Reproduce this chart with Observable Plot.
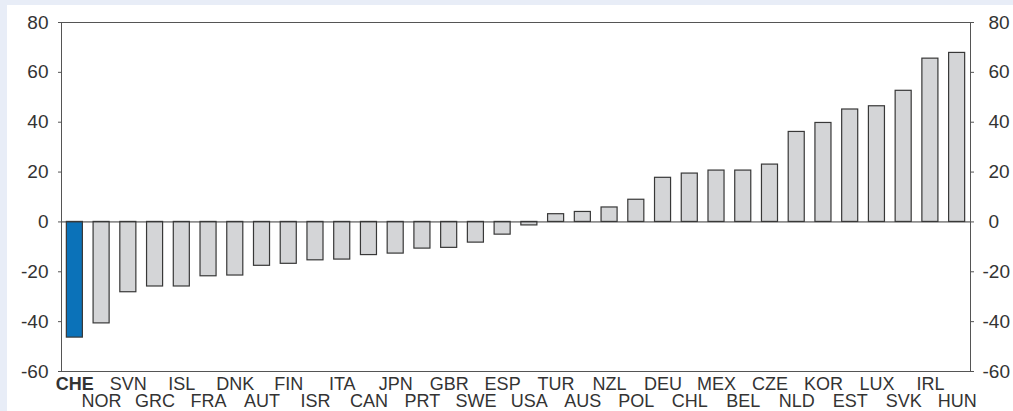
<!DOCTYPE html>
<html>
<head>
<meta charset="utf-8">
<script src="https://cdn.jsdelivr.net/npm/d3@7"></script>
<script src="https://cdn.jsdelivr.net/npm/@observablehq/plot@0.6"></script>
<style>
  html, body { margin: 0; padding: 0; background: #e8edf7; }
  body { width: 1013px; height: 411px; overflow: hidden; position: relative; }
  #panel { position: absolute; left: 7px; top: 5px; width: 1006px; height: 406px; background: #ffffff; }
  #panel svg { display: block; }
</style>
</head>
<body>
<div id="panel"></div>
<script>
const countries = ["CHE","NOR","SVN","GRC","ISL","FRA","DNK","AUT","FIN","ISR","ITA","CAN","JPN","PRT","GBR","SWE","ESP","USA","TUR","AUS","NZL","POL","DEU","CHL","MEX","BEL","CZE","NLD","KOR","EST","LUX","SVK","IRL","HUN"];
const values = [-46.4,-40.7,-28.2,-25.9,-25.9,-21.8,-21.5,-17.6,-16.8,-15.4,-15.1,-13.3,-12.7,-10.7,-10.4,-8.3,-5.1,-1.4,3.1,4.0,5.8,8.9,17.7,19.4,20.6,20.6,23.0,36.1,39.7,45.1,46.4,52.6,65.5,67.8];
const highlight = ["CHE"];
const yTicksPos = [0, 20, 40, 60, 80];
const yTicksNeg = [-60, -40, -20];

const data = countries.map((c, i) => ({country: c, value: values[i], row: i % 2, hl: highlight.includes(c)}));

const font = "'Liberation Sans', Arial, Helvetica, sans-serif";
const textColor = "#333333";

const labelMark = (rows, dy, bold) => Plot.text(rows, {
  x: "country", text: "country", frameAnchor: "bottom", lineAnchor: "bottom", dy,
  fontSize: 18, fill: textColor, fontWeight: bold ? "bold" : "normal"
});

const chart = Plot.plot({
  width: 1006,
  height: 406,
  marginLeft: 54,
  marginRight: 43,
  marginTop: 17,
  marginBottom: 40,
  style: {fontFamily: font, background: "transparent", color: textColor},
  x: {type: "band", domain: countries, paddingInner: 0.4, paddingOuter: 0.2, round: false, axis: null},
  y: {domain: [-60, 80], axis: null},
  marks: [
    Plot.barY(data, {
      x: "country", y: "value",
      fill: d => d.hl ? "#0b72b9" : "#d4d5d7",
      stroke: "#383838", strokeWidth: 1.2
    }),
    Plot.ruleY([0], {stroke: "#3a3a3a", strokeWidth: 1}),
    Plot.frame({stroke: "#555555", strokeWidth: 1}),
    Plot.axisY([...yTicksNeg, ...yTicksPos], {anchor: "left", label: null, tickSize: 3, tickPadding: 10, fontSize: 19, tickFormat: d => String(d), stroke: "#555", fill: textColor}),
    Plot.axisY(yTicksPos, {anchor: "right", label: null, tickSize: 3, tickPadding: 15, fontSize: 19, tickFormat: d => String(d), stroke: "#555", fill: textColor}),
    Plot.axisY(yTicksNeg, {anchor: "right", label: null, tickSize: 3, tickPadding: 9, fontSize: 19, tickFormat: d => String(d), stroke: "#555", fill: textColor}),
    labelMark(data.filter(d => d.row === 0 && !d.hl), 18.5, false),
    labelMark(data.filter(d => d.row === 0 && d.hl), 18.5, true),
    labelMark(data.filter(d => d.row === 1 && !d.hl), 35.8, false),
    labelMark(data.filter(d => d.row === 1 && d.hl), 35.8, true)
  ]
});
document.getElementById("panel").appendChild(chart);
</script>
</body>
</html>
